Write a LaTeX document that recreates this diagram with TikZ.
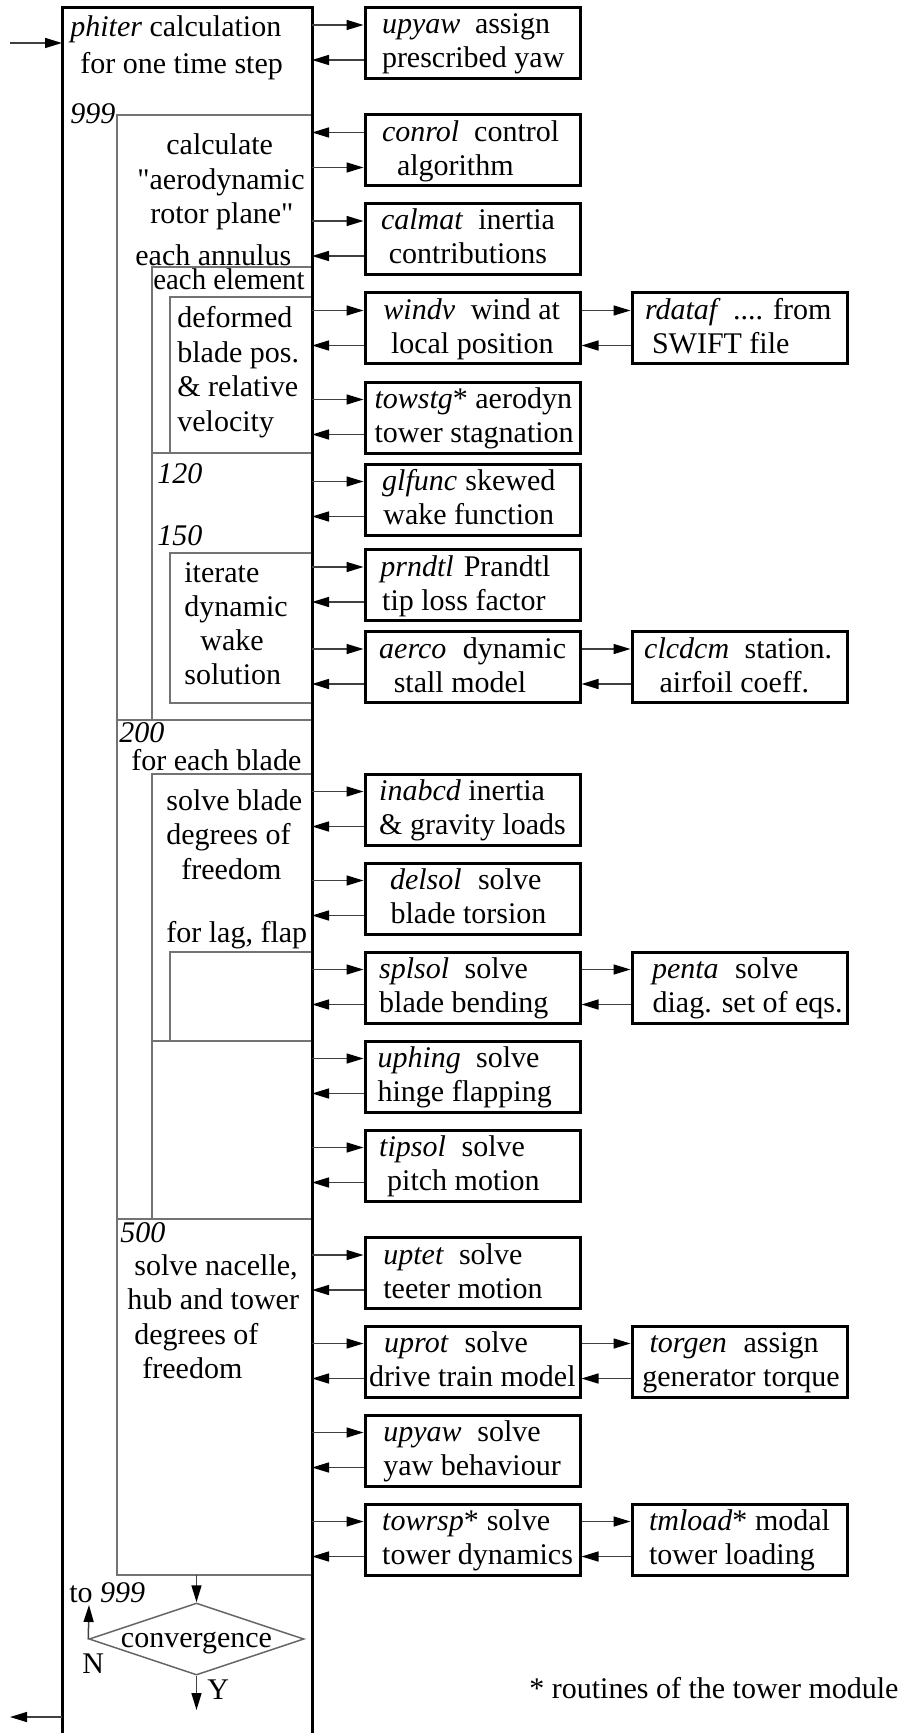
\documentclass[tikz,border=0pt]{standalone}
\usepackage{fontspec}
\setmainfont{Liberation Serif}[Ligatures=TeXOff]
\usetikzlibrary{arrows.meta,calc,shapes.geometric}

% routine box text: name at #1, rest of first line at #3, second line at #5
% (offsets measured from the left edge of the box)
\newcommand\boxtext[6]{\vtop{\baselineskip=17pt
  \hbox to 107.5pt{\rlap{\hspace*{#1}#2}\rlap{\hspace*{#3}#4}\hfil}%
  \hbox to 107.5pt{\rlap{\hspace*{#5}#6}\hfil}}}
% call to a routine and return from it
\newcommand\calls[2]{%
  \draw[arr] ($(#1 |- #2.west)+(0,-18)$) -- ($(#2.west)+(0,-18)$);
  \draw[arr] ($(#2.west)+(0,17)$) -- ($(#1 |- #2.west)+(0,17)$);}
\newcommand\callsrev[2]{%
  \draw[arr] ($(#2.west)+(0,-18)$) -- ($(#1 |- #2.west)+(0,-18)$);
  \draw[arr] ($(#1 |- #2.west)+(0,17)$) -- ($(#2.west)+(0,17)$);}
\newcommand\subcalls[2]{%
  \draw[arr] ($(#1.east)+(0,-18)$) -- ($(#2.west)+(0,-18)$);
  \draw[arr] ($(#2.west)+(0,17)$) -- ($(#1.east)+(0,17)$);}

\begin{document}
\begin{tikzpicture}[x=0.5pt,y=-0.5pt,
  font=\fontsize{15}{17}\selectfont,
  mainframe/.style={draw=black, line width=1.5pt, line join=miter},
  loopbox/.style={draw=black!55, line width=0.8pt},
  arr/.style={draw=black!75, line width=0.75pt, -{Triangle[length=8.5pt,width=5pt,color=black]}},
  rbox/.style={draw=black, line width=1.5pt, inner sep=0pt, minimum width=107.5pt,
    minimum height=35.5pt, text height=10pt, text depth=19pt},
  ltxt/.style={inner sep=0pt, anchor=base west},
  decision/.style={shape=diamond, draw=black!60, line width=0.75pt, inner sep=0pt,
    minimum width=107.5pt, minimum height=36pt}]

\useasboundingbox (0,0) rectangle (901,1733);

% nested loop boxes
\draw[loopbox] (117,115) rectangle (312,1575);
\draw[loopbox] (117,720) -- (312,720);
\draw[loopbox] (117,1219) -- (312,1219);
\draw[loopbox] (152,267) rectangle (312,720);
\draw[loopbox] (170,297) rectangle (312,453);
\draw[loopbox] (152,453) -- (312,453);
\draw[loopbox] (170,553) rectangle (312,703);
\draw[loopbox] (152,774) rectangle (312,1219);
\draw[loopbox] (170,952) rectangle (312,1041);
\draw[loopbox] (152,1041) -- (312,1041);

% main routine frame
\coordinate (mainNW) at (62,8);
\coordinate (mainNE) at (312,8);
\draw[mainframe] (62,1733) -- (mainNW) -- (mainNE) -- (312,1733);

% entry and exit
\coordinate (entry) at (10,43);
\coordinate (exit) at (10,1717);
\draw[arr] (entry) -- (entry -| mainNW);
\draw[arr] (exit -| mainNW) -- (exit);

% texts of the main routine
\node[ltxt] (tphiter) at (70,37) {\vtop{\baselineskip=18.5pt
  \hbox{\textit{phiter} calculation}\hbox{\hspace*{5pt}for one time step}}};
\node[ltxt] (l999) at (70,124) {\textit{999}};
\node[ltxt] (tcalc) at (137,155) {\vtop{\baselineskip=17.25pt
  \hbox{\hspace*{14.5pt}calculate}\hbox{"aerodynamic}\hbox{\hspace*{6.5pt}rotor plane"}}};
\node[ltxt] (tannulus) at (135,266) {each annulus};
\node[ltxt] (telement) at (153,290) {\scalebox{0.96}[1]{each element}};
\node[ltxt] (tdeformed) at (177,328) {\vtop{\baselineskip=17.2pt
  \hbox{deformed}\hbox{blade pos.}\hbox{\& relative}\hbox{velocity}}};
\node[ltxt] (l120) at (157,483) {\textit{120}};
\node[ltxt] (l150) at (157,545) {\textit{150}};
\node[ltxt] (titerate) at (184,582) {\vtop{\baselineskip=17pt
  \hbox{iterate}\hbox{dynamic}\hbox{\hspace*{8pt}wake}\hbox{solution}}};
\node[ltxt] (l200) at (119,742) {\textit{200}};
\node[ltxt] (tblade) at (131,770) {for each blade};
\node[ltxt] (tbladedof) at (166,810) {\vtop{\baselineskip=17.25pt
  \hbox{solve blade}\hbox{degrees of}\hbox{\hspace*{7.5pt}freedom}}};
\node[ltxt] (tlagflap) at (166,942) {for lag, flap};
\node[ltxt] (l500) at (120,1242.5) {\textit{500}};
\node[ltxt] (tnacelle) at (127,1275) {\vtop{\baselineskip=17.25pt
  \hbox{\hspace*{3.5pt}solve nacelle,}\hbox{hub and tower}\hbox{\hspace*{3.5pt}degrees of}\hbox{\hspace*{7.5pt}freedom}}};

% convergence test
\node[decision] (conv) at (196.5,1639) {\makebox[0pt]{\raisebox{-4pt}[0pt][0pt]{convergence}}};
\coordinate (end500) at (196.5,1575);
\coordinate (back999) at (89,1605);
\coordinate (yes) at (196.5,1710);
\draw[arr] (end500) -- (conv.north);
\draw[arr] (conv.west) -- (back999);
\draw[arr] (conv.south) -- (yes);
\node[ltxt] (tto999) at (69,1602) {to \textit{999}};
\node[ltxt] (tno) at (82,1673) {N};
\node[ltxt] (tyes) at (207,1699) {Y};

% called routines
\node[rbox] (upyawA) at (472.5,43) {\boxtext{8.5pt}{\textit{upyaw}}{55pt}{assign}{8.5pt}{prescribed yaw}};
\node[rbox] (conrol) at (472.5,150.5) {\boxtext{8.5pt}{\textit{conrol}}{54.6pt}{control}{16pt}{algorithm}};
\node[rbox] (calmat) at (472.5,239) {\boxtext{8pt}{\textit{calmat}}{56.7pt}{inertia}{11.9pt}{contributions}};
\node[rbox] (windv) at (472.5,328.5) {\boxtext{9.2pt}{\textit{windv}}{52.9pt}{wind at}{13pt}{local position}};
\node[rbox] (rdataf) at (739.5,328.5) {\boxtext{6.5pt}{\textit{rdataf}}{50.6pt}{.... from}{10pt}{SWIFT file}};
\node[rbox] (towstg) at (472.5,417.5) {\boxtext{4.8pt}{\textit{towstg}*}{55.2pt}{aerodyn}{4.8pt}{tower stagnation}};
\node[rbox] (glfunc) at (472.5,499.5) {\boxtext{8.6pt}{\textit{glfunc}}{50.2pt}{skewed}{9.2pt}{wake function}};
\node[rbox] (prndtl) at (472.5,585) {\boxtext{7.7pt}{\textit{prndtl}}{49.4pt}{Prandtl}{8.6pt}{tip loss factor}};
\node[rbox] (aerco) at (472.5,667) {\boxtext{7.1pt}{\textit{aerco}}{48.9pt}{dynamic}{14.4pt}{stall model}};
\node[rbox] (clcdcm) at (739.5,667) {\boxtext{6.1pt}{\textit{clcdcm}}{56.3pt}{station.}{13.8pt}{airfoil coeff.}};
\node[rbox] (inabcd) at (472.5,809.5) {\boxtext{7.1pt}{\textit{inabcd}}{51.7pt}{inertia}{7.1pt}{\& gravity loads}};
\node[rbox] (delsol) at (472.5,898.5) {\boxtext{12.5pt}{\textit{delsol}}{56.5pt}{solve}{12.8pt}{blade torsion}};
\node[rbox] (splsol) at (472.5,987.5) {\boxtext{7.1pt}{\textit{splsol}}{49.8pt}{solve}{7.1pt}{blade bending}};
\node[rbox] (penta) at (739.5,987.5) {\boxtext{10pt}{\textit{penta}}{51.6pt}{solve}{10.3pt}{diag. set of eqs.}};
\node[rbox] (uphing) at (472.5,1076.5) {\boxtext{6.3pt}{\textit{uphing}}{55.6pt}{solve}{6.3pt}{hinge flapping}};
\node[rbox] (tipsol) at (472.5,1165.5) {\boxtext{7.1pt}{\textit{tipsol}}{48.3pt}{solve}{11.1pt}{pitch motion}};
\node[rbox] (uptet) at (472.5,1273) {\boxtext{9.2pt}{\textit{uptet}}{47pt}{solve}{9.2pt}{teeter motion}};
\node[rbox] (uprot) at (472.5,1361.5) {\boxtext{9.6pt}{\textit{uprot}}{49.8pt}{solve}{2pt}{drive train model}};
\node[rbox] (torgen) at (739.5,1361.5) {\boxtext{8.8pt}{\textit{torgen}}{55.8pt}{assign}{5.2pt}{generator torque}};
\node[rbox] (upyawB) at (472.5,1450.5) {\boxtext{9.2pt}{\textit{upyaw}}{56.2pt}{solve}{9.2pt}{yaw behaviour}};
\node[rbox] (towrsp) at (472.5,1539.5) {\boxtext{8.6pt}{\textit{towrsp}*}{60.9pt}{solve}{8.6pt}{tower dynamics}};
\node[rbox] (tmload) at (739.5,1539.5) {\boxtext{8.5pt}{\textit{tmload}*}{61.5pt}{modal}{8.5pt}{tower loading}};

% calls and returns
\calls{mainNE}{upyawA}
\callsrev{mainNE}{conrol}
\calls{mainNE}{calmat}
\calls{mainNE}{windv}
\subcalls{windv}{rdataf}
\calls{mainNE}{towstg}
\calls{mainNE}{glfunc}
\calls{mainNE}{prndtl}
\calls{mainNE}{aerco}
\subcalls{aerco}{clcdcm}
\calls{mainNE}{inabcd}
\calls{mainNE}{delsol}
\calls{mainNE}{splsol}
\subcalls{splsol}{penta}
\calls{mainNE}{uphing}
\calls{mainNE}{tipsol}
\calls{mainNE}{uptet}
\calls{mainNE}{uprot}
\subcalls{uprot}{torgen}
\calls{mainNE}{upyawB}
\calls{mainNE}{towrsp}
\subcalls{towrsp}{tmload}

% footnote
\node[ltxt] (note) at (529,1698) {* routines of the tower module};
\end{tikzpicture}
\end{document}
